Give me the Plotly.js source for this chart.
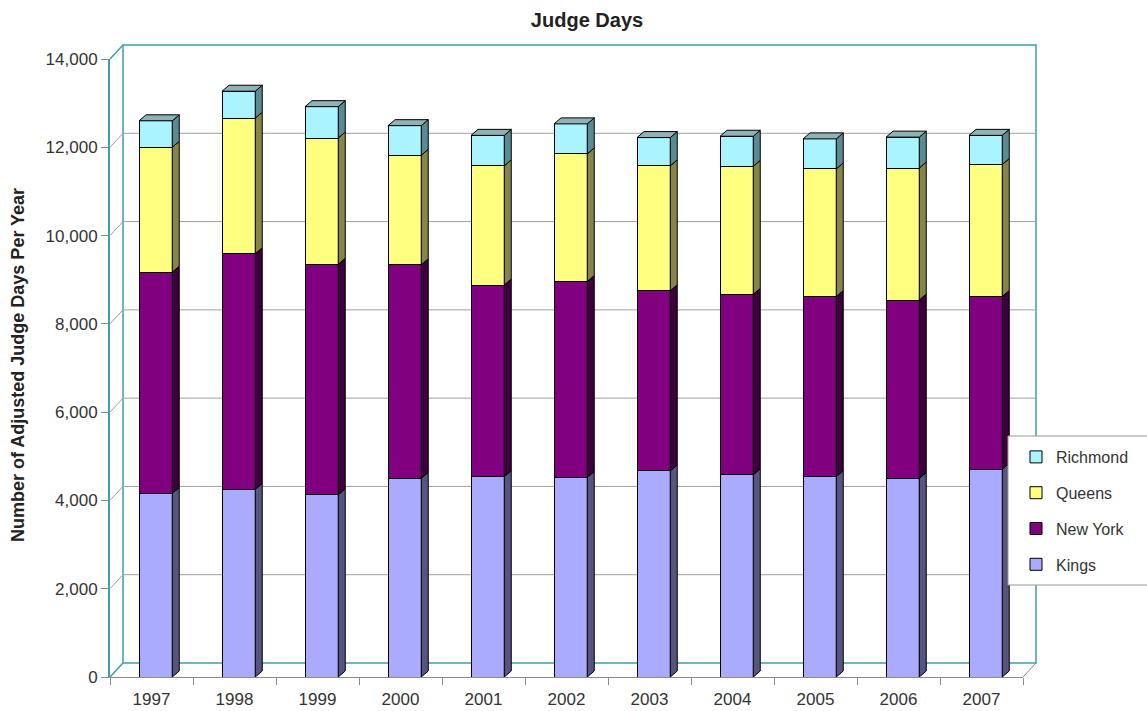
<!DOCTYPE html>
<html>
<head>
<meta charset="utf-8">
<script src="https://cdn.plot.ly/plotly-3.0.1.min.js"></script>
<style>
  html, body { margin: 0; padding: 0; background: #ffffff; }
  #chart { width: 1147px; height: 711px; }
</style>
</head>
<body>
<div id="chart"></div>
<script>
// Adjusted judge days per year, by county
const years    = ['1997','1998','1999','2000','2001','2002','2003','2004','2005','2006','2007'];
const kings    = [4160, 4250, 4130, 4500, 4540, 4520, 4670, 4580, 4540, 4500, 4710];
const newYork  = [5010, 5340, 5220, 4840, 4340, 4440, 4080, 4090, 4080, 4040, 3910];
const queens   = [2830, 3070, 2860, 2480, 2700, 2890, 2830, 2900, 2890, 2990, 2990];
const richmond = [ 600,  610,  710,  670,  690,  680,  640,  680,  680,  700,  660];
const yTicks   = [0, 2000, 4000, 6000, 8000, 10000, 12000, 14000];

// Plot box in pixels
const W = 1147, H = 711;
const M = { l: 110, r: 124, t: 59, b: 34 };
const plotW = W - M.l - M.r, plotH = H - M.t - M.b;
const yMax = yTicks[yTicks.length - 1];

// Pseudo-3D depth of the wall and of each column
const wallDx = 13, wallDy = 14;      // px
const barDx = 7, barDy = 6;          // px
const catPx = plotW / years.length;
const barW = 0.4, barOff = -0.15;    // in category units

const series = [
  { name: 'Kings',    v: kings,    face: '#aaaaff', side: '#55557f' },
  { name: 'New York', v: newYork,  face: '#800080', side: '#3c003c' },
  { name: 'Queens',   v: queens,   face: '#ffff80', side: '#85854a' },
  { name: 'Richmond', v: richmond, face: '#aaf4ff', side: '#5a8a92', top: '#8fb2b4' }
];

const xIdx = years.map((_, i) => i);
const dxU = barDx / catPx;                 // side depth in x units
const dyU = barDy * yMax / plotH;          // side depth in y units

const traces = [];
const faces = [];
const cum = years.map(() => 0);

series.forEach((s, k) => {
  traces.push({
    type: 'bar', name: s.name, x: xIdx, y: s.v,
    width: barW, offset: barOff,
    legendgroup: s.name, legendrank: series.length - k,
    marker: { color: s.face, line: { color: '#000000', width: 1 } },
    hovertemplate: s.name + ' %{customdata}: %{y:,}<extra></extra>',
    customdata: years
  });

  // right-hand side faces of each segment
  const sx = [], sy = [];
  xIdx.forEach(i => {
    const b = cum[i], t = cum[i] + s.v[i];
    const xr = i + barOff + barW;
    sx.push(xr, xr + dxU, xr + dxU, xr, xr, null);
    sy.push(b, b + dyU, t + dyU, t, b, null);
  });
  faces.push({
    type: 'scatter', mode: 'lines', x: sx, y: sy, fill: 'toself',
    fillcolor: s.side, line: { color: '#000000', width: 1 },
    showlegend: false, hoverinfo: 'skip'
  });

  xIdx.forEach(i => { cum[i] += s.v[i]; });

  // top faces on the uppermost segment
  if (k === series.length - 1) {
    const tx = [], ty = [];
    xIdx.forEach(i => {
      const t = cum[i];
      const xl = i + barOff, xr = i + barOff + barW;
      tx.push(xl, xl + dxU, xr + dxU, xr, xl, null);
      ty.push(t, t + dyU, t + dyU, t, t, null);
    });
    faces.push({
      type: 'scatter', mode: 'lines', x: tx, y: ty, fill: 'toself',
      fillcolor: s.top, line: { color: '#000000', width: 1 },
      showlegend: false, hoverinfo: 'skip'
    });
  }
});

// Walls, floor and back-wall gridlines (paper coordinates)
const teal = '#3f9ea8', grid = '#a0a0a0', axisGray = '#8c8c8c';
const ddx = wallDx / plotW, ddy = wallDy / plotH;
const shapes = [
  { type: 'rect', xref: 'paper', yref: 'paper', x0: ddx, x1: 1 + ddx, y0: ddy, y1: 1 + ddy,
    line: { color: teal, width: 1.5 }, fillcolor: '#ffffff', layer: 'below' },
  { type: 'line', xref: 'paper', yref: 'paper', x0: 0, x1: ddx, y0: 1, y1: 1 + ddy,
    line: { color: teal, width: 1.5 }, layer: 'below' },
  { type: 'line', xref: 'paper', yref: 'paper', x0: 0, x1: ddx, y0: 0, y1: ddy,
    line: { color: teal, width: 1.5 }, layer: 'below' },
  { type: 'line', xref: 'paper', yref: 'paper', x0: 1, x1: 1 + ddx, y0: 0, y1: ddy,
    line: { color: axisGray, width: 1 }, layer: 'below' }
];
yTicks.slice(1, -1).forEach(v => {
  const yp = v / yMax;
  shapes.push({ type: 'line', xref: 'paper', yref: 'paper', x0: ddx, x1: 1 + ddx, y0: yp + ddy, y1: yp + ddy,
    line: { color: grid, width: 1 }, layer: 'below' });
  shapes.push({ type: 'line', xref: 'paper', yref: 'paper', x0: 0, x1: ddx, y0: yp, y1: yp + ddy,
    line: { color: grid, width: 1 }, layer: 'below' });
});
// legend frame
const px2x = p => (p - M.l) / plotW;
const px2y = p => (H - M.b - p) / plotH;
shapes.push({ type: 'rect', xref: 'paper', yref: 'paper',
  x0: px2x(1008), x1: px2x(1152), y0: px2y(585), y1: px2y(436),
  line: { color: '#9a9a9a', width: 1 }, fillcolor: '#ffffff', layer: 'above' });

const font = 'Liberation Sans, Arial, sans-serif';

const layout = {
  width: W, height: H,
  margin: M,
  paper_bgcolor: '#ffffff', plot_bgcolor: 'rgba(0,0,0,0)',
  barmode: 'stack',
  font: { family: font, size: 17, color: '#333333' },
  title: {
    text: '<b>Judge Days</b>', xref: 'container', yref: 'container',
    x: 587 / W, xanchor: 'center', y: 1 - 20 / H, yanchor: 'middle',
    font: { family: font, size: 20, color: '#222222' }
  },
  xaxis: {
    range: [-0.5, years.length - 0.5],
    tickmode: 'array', tickvals: xIdx, ticktext: years,
    ticks: 'outside', ticklen: 7, tickcolor: 'rgba(0,0,0,0)',
    showline: true, linecolor: axisGray, linewidth: 1,
    showgrid: false, zeroline: false, fixedrange: true,
    minor: { tickmode: 'array', tickvals: years.slice(1).map((_, i) => i + 0.5).concat([-0.5, years.length - 0.5]),
             ticks: 'outside', ticklen: 7, tickcolor: axisGray, tickwidth: 1, showgrid: false }
  },
  yaxis: {
    range: [0, yMax], tickmode: 'array', tickvals: yTicks, tickformat: ',d',
    ticks: 'outside', ticklen: 7, tickcolor: axisGray,
    showline: true, linecolor: teal, linewidth: 2,
    showgrid: false, zeroline: false, fixedrange: true
  },
  legend: {
    x: px2x(1016), xanchor: 'left', y: px2y(440), yanchor: 'top',
    traceorder: 'grouped', tracegroupgap: 12,
    bgcolor: 'rgba(0,0,0,0)', borderwidth: 0,
    font: { family: font, size: 16, color: '#333333' }
  },
  annotations: [{
    text: '<b>Number of Adjusted Judge Days Per Year</b>',
    xref: 'paper', yref: 'paper', x: px2x(18), y: px2y(365),
    xanchor: 'center', yanchor: 'middle', textangle: -90, showarrow: false,
    font: { family: font, size: 18, color: '#222222' }
  }],
  shapes: shapes,
  showlegend: true
};

Plotly.newPlot('chart', traces.concat(faces), layout, { displayModeBar: false, staticPlot: true });
</script>
</body>
</html>
